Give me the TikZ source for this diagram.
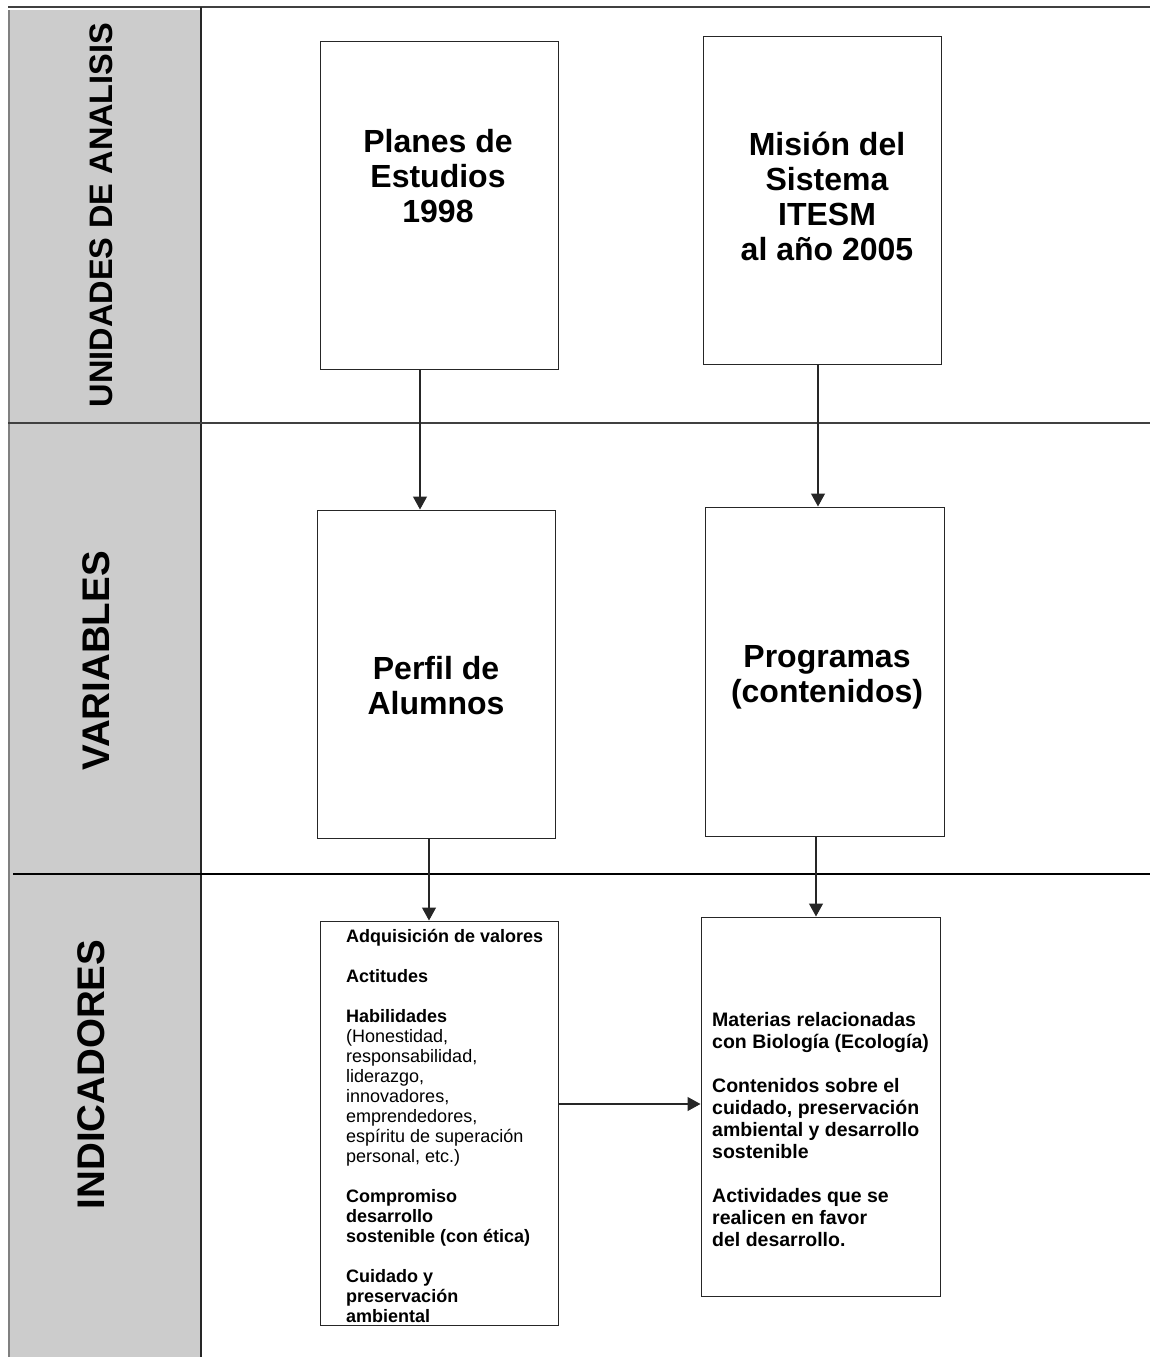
\documentclass[tikz,border=0pt]{standalone}
\usepackage{fontspec}
\setmainfont{Liberation Sans}
\usetikzlibrary{arrows.meta,calc}
\begin{document}
\begin{tikzpicture}[x=1pt,y=-1pt,
  box/.style={draw=black!85,line width=1pt,fill=white,inner sep=0pt},
  bigtxt/.style={font=\bfseries\fontsize{32}{35}\selectfont,align=center,inner sep=0pt},
  bandtxt/.style={rotate=90,inner sep=0pt},
  smalltxt/.style={font=\fontsize{18}{20}\selectfont,align=left,inner sep=0pt,anchor=north west},
  midtxt/.style={font=\bfseries\fontsize{19.5}{22}\selectfont,align=left,inner sep=0pt,anchor=north west},
  arr/.style={draw=black!85,line width=1.2pt,-{Triangle[width=14pt,length=13pt]}},
  rule/.style={draw=black!75,line width=1.4pt}]
\useasboundingbox (0,0) rectangle (1150,1357);
% band
\fill[black!20] (9,10) rectangle (201,1357);
\draw[draw=black!50,line width=2.5pt] (9,10) -- (9,1357);
\coordinate (tl) at (8,7);
\coordinate (tr) at (1150,7);
\draw[rule,line width=2pt] (tl) -- (tr);
\coordinate (bt) at (201,7);
\coordinate (bb) at (201,1357);
\draw[draw=black!85,line width=1.4pt] (bt) -- (bb);
\coordinate (h1l) at (8,423);
\coordinate (h1r) at (1150,423);
\draw[rule] (h1l) -- (h1r);
\coordinate (h2l) at (13,874);
\coordinate (h2r) at (1150,874);
\draw[draw=black,line width=1.5pt] (h2l) -- (h2r);
% band labels
\node[bandtxt,font=\bfseries\fontsize{32.5}{35}\selectfont] (lab1) at (101.5,215) {UNIDADES DE ANALISIS};
\node[bandtxt,font=\bfseries\fontsize{38.5}{40}\selectfont] (lab2) at (96.5,661) {VARIABLES};
\node[bandtxt,font=\bfseries\fontsize{38.5}{40}\selectfont] (lab3) at (91.5,1074.5) {INDICADORES};
% boxes
\node[box,minimum width=238pt,minimum height=328pt] (planes) at (439,205) {};
\node[box,minimum width=238pt,minimum height=328pt] (mision) at (822,200) {};
\node[box,minimum width=238pt,minimum height=328pt] (perfil) at (436,674) {};
\node[box,minimum width=239pt,minimum height=329pt] (prog) at (824.5,671.5) {};
\node[box,minimum width=238pt,minimum height=404pt] (ind1) at (439,1123) {};
\node[box,minimum width=239pt,minimum height=379pt] (ind2) at (820.5,1106.5) {};
% texts
\node[bigtxt] (tplanes) at (438,176) {Planes de\\Estudios\\1998};
\node[bigtxt] (tmision) at (827,196) {Misión del\\Sistema\\ITESM\\al año 2005};
\node[bigtxt] (tperfil) at (436,685.5) {Perfil de\\Alumnos};
\node[bigtxt] (tprog) at (827,677) {Programas\\(contenidos)};
\node[smalltxt] (tind1) at (346,929) {\textbf{Adquisición de valores}\\[20pt]
\textbf{Actitudes}\\[20pt]
\textbf{Habilidades}\\
(Honestidad,\\
responsabilidad,\\
liderazgo,\\
innovadores,\\
emprendedores,\\
espíritu de superación\\
personal, etc.)\\[20pt]
\textbf{Compromiso}\\
\textbf{desarrollo}\\
\textbf{sostenible (con ética)}\\[20pt]
\textbf{Cuidado y}\\
\textbf{preservación}\\
\textbf{ambiental}};
\node[midtxt] (tind2) at (712,1012) {Materias relacionadas\\
con Biología (Ecología)\\[22pt]
Contenidos sobre el\\
cuidado, preservación\\
ambiental y desarrollo\\
sostenible\\[22pt]
Actividades que se\\
realicen en favor\\
del desarrollo.};
% arrows
\coordinate (a1) at (420,0);
\coordinate (a2) at (818,0);
\coordinate (a3) at (429,0);
\coordinate (a4) at (816,0);
\coordinate (a5) at (0,1104);
\draw[arr] (planes.south -| a1) -- (perfil.north -| a1);
\draw[arr] (mision.south -| a2) -- (prog.north -| a2);
\draw[arr] (perfil.south -| a3) -- (ind1.north -| a3);
\draw[arr] (prog.south -| a4) -- (ind2.north -| a4);
\draw[arr] (ind1.east |- a5) -- (ind2.west |- a5);
\end{tikzpicture}
\end{document}
